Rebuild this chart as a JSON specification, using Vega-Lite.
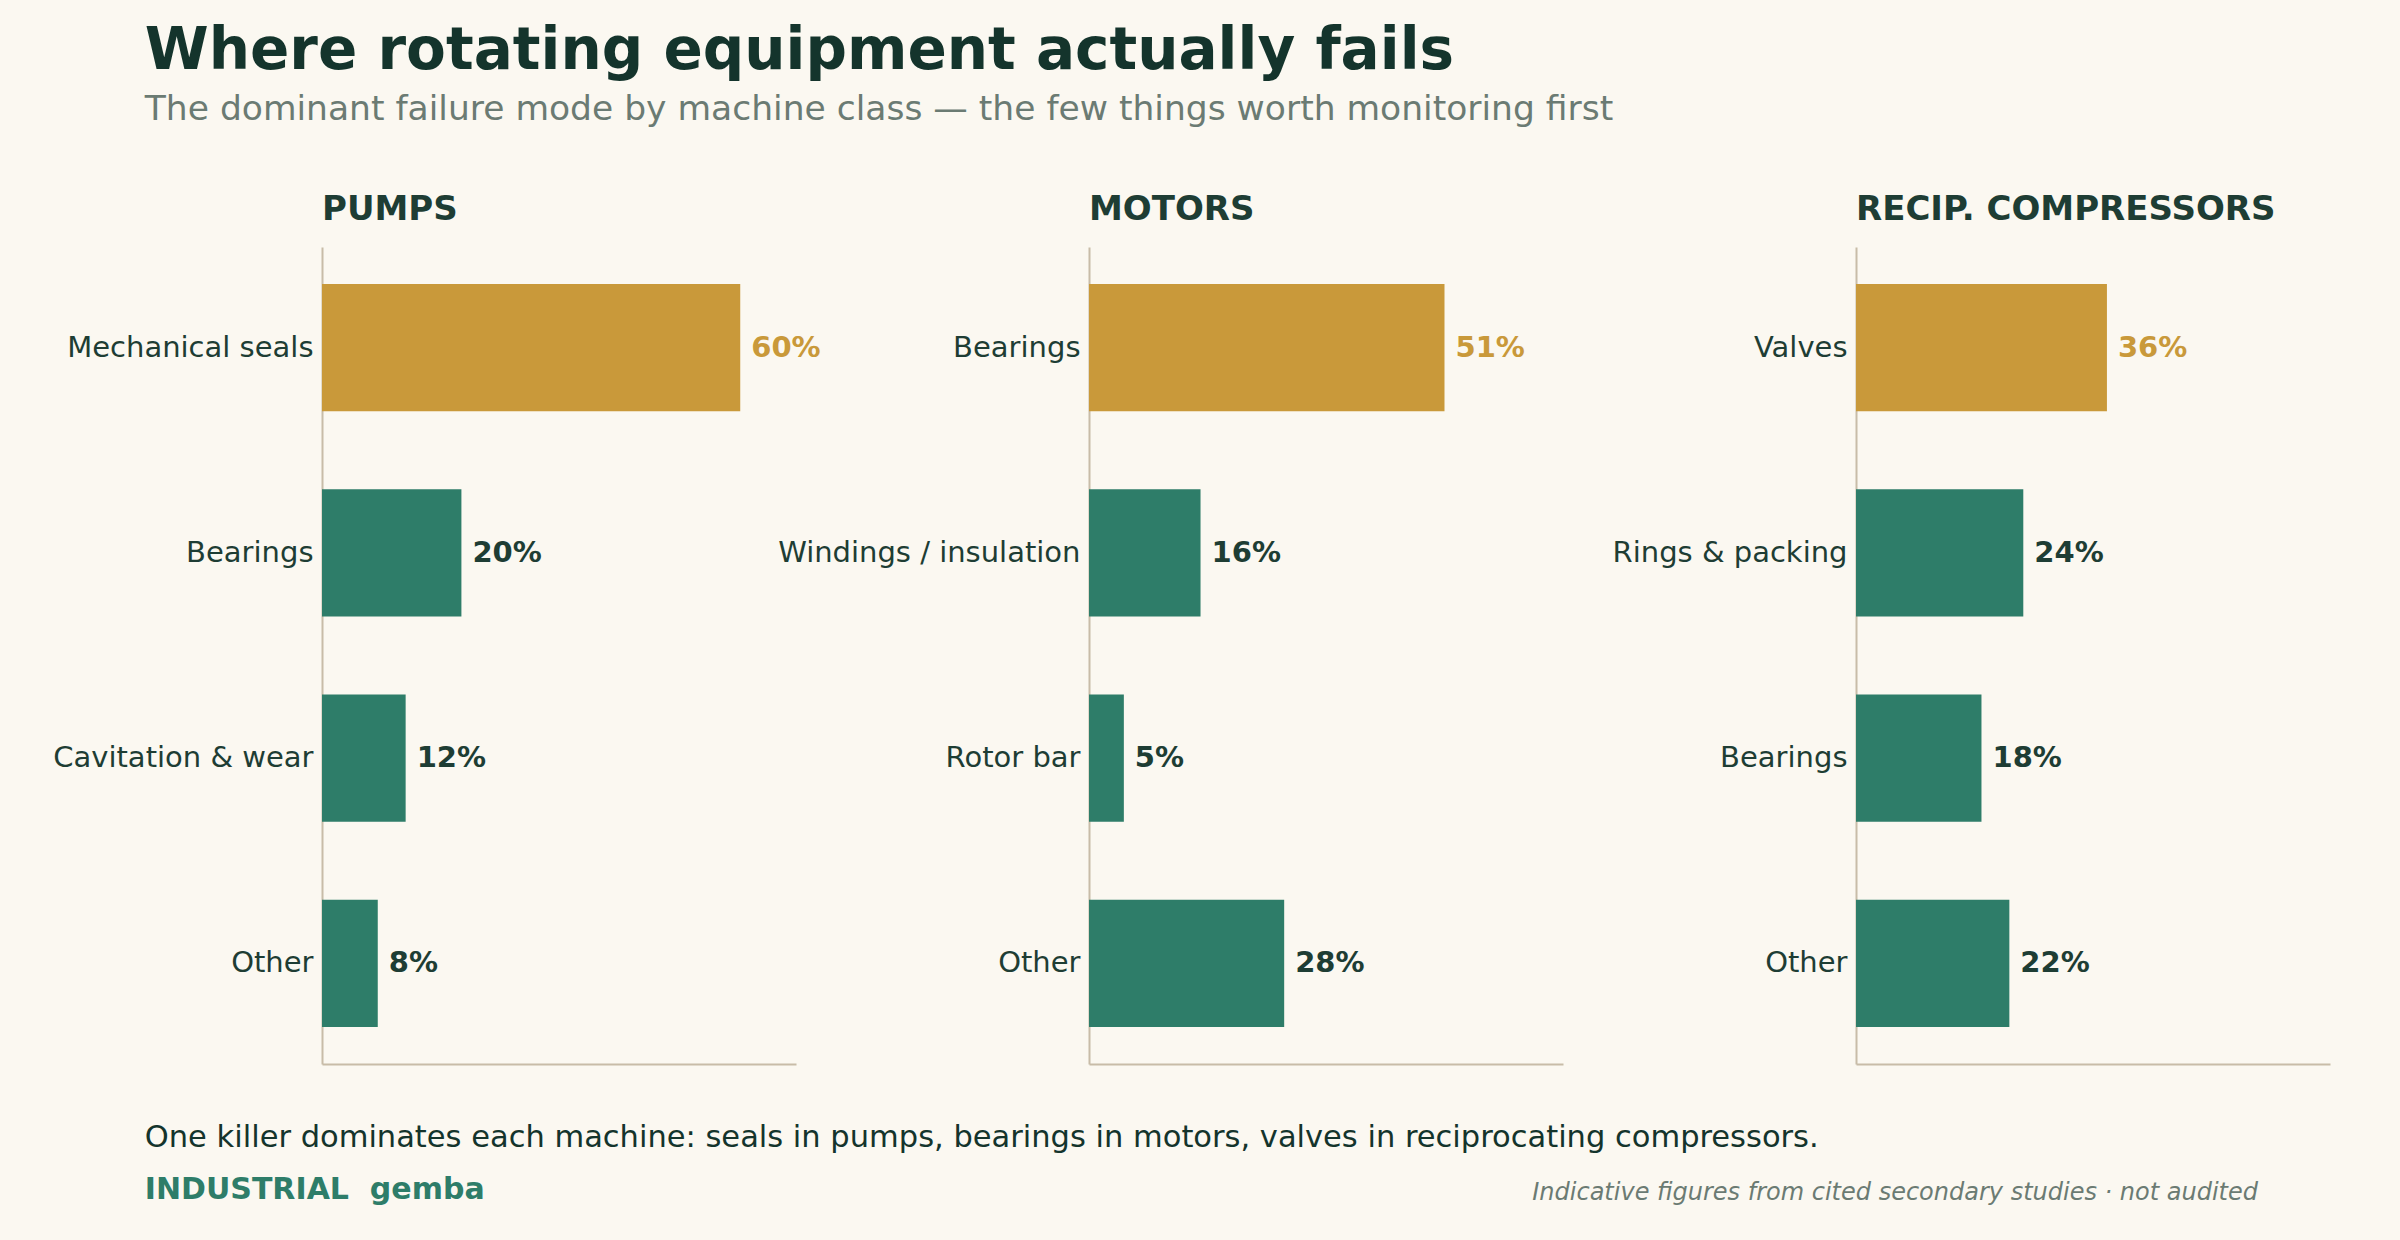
{
  "$schema": "https://vega.github.io/schema/vega-lite/v6.json",
  "background": "#FBF8F1",
  "padding": {"left": 52, "top": 22, "right": 72, "bottom": 39},
  "title": {
    "text": "Where rotating equipment actually fails",
    "subtitle": "The dominant failure mode by machine class — the few things worth monitoring first",
    "anchor": "start",
    "dx": 92,
    "fontSize": 58,
    "fontWeight": "bold",
    "color": "#14342C",
    "subtitleFontSize": 34.5,
    "subtitleColor": "#6B7B73",
    "subtitlePadding": 12,
    "offset": 67
  },
  "vconcat": [
    {
      "title": {
        "text": "Indicative figures from cited secondary studies · not audited",
        "orient": "bottom",
        "anchor": "end",
        "dx": -72,
        "offset": -24,
        "fontSize": 24,
        "fontStyle": "italic",
        "fontWeight": "normal",
        "color": "#6B7B73"
      },
      "vconcat": [
        {
          "title": {
            "text": "One killer dominates each machine: seals in pumps, bearings in motors, valves in reciprocating compressors.",
            "subtitle": "INDUSTRIAL\u00a0\u00a0gemba",
            "orient": "bottom",
            "anchor": "start",
            "dx": 92,
            "offset": 59,
            "fontSize": 30.5,
            "fontWeight": "normal",
            "color": "#14342C",
            "subtitleFontSize": 30,
            "subtitleFontWeight": "bold",
            "subtitleColor": "#2E7D69",
            "subtitlePadding": 21
          },
          "data": {
            "values": [
              {"machine": "PUMPS", "mode": "Mechanical seals", "share": 0.60, "rank": 1},
              {"machine": "PUMPS", "mode": "Bearings", "share": 0.20, "rank": 2},
              {"machine": "PUMPS", "mode": "Cavitation & wear", "share": 0.12, "rank": 3},
              {"machine": "PUMPS", "mode": "Other", "share": 0.08, "rank": 4},
              {"machine": "MOTORS", "mode": "Bearings", "share": 0.51, "rank": 1},
              {"machine": "MOTORS", "mode": "Windings / insulation", "share": 0.16, "rank": 2},
              {"machine": "MOTORS", "mode": "Rotor bar", "share": 0.05, "rank": 3},
              {"machine": "MOTORS", "mode": "Other", "share": 0.28, "rank": 4},
              {"machine": "RECIP. COMPRESSORS", "mode": "Valves", "share": 0.36, "rank": 1},
              {"machine": "RECIP. COMPRESSORS", "mode": "Rings & packing", "share": 0.24, "rank": 2},
              {"machine": "RECIP. COMPRESSORS", "mode": "Bearings", "share": 0.18, "rank": 3},
              {"machine": "RECIP. COMPRESSORS", "mode": "Other", "share": 0.22, "rank": 4}
            ]
          },
          "facet": {
            "column": {
              "field": "machine",
              "type": "nominal",
              "sort": ["PUMPS", "MOTORS", "RECIP. COMPRESSORS"],
              "title": null,
              "header": {
                "labelAnchor": "start",
                "labelAlign": "left",
                "labelFontSize": 34,
                "labelFontWeight": "bold",
                "labelColor": "#1E3D34",
                "labelPadding": 20
              }
            }
          },
          "spacing": 293,
          "bounds": "flush",
          "resolve": {"scale": {"y": "independent"}},
          "spec": {
            "width": 474,
            "height": 817,
            "encoding": {
              "y": {
                "field": "mode",
                "type": "nominal",
                "sort": {"field": "rank", "op": "min"},
                "title": null,
                "scale": {"paddingInner": 0.38, "paddingOuter": 0.18},
                "axis": {
                  "domain": true,
                  "domainColor": "#C8BCA8",
                  "domainWidth": 2,
                  "ticks": false,
                  "labelFontSize": 29,
                  "labelColor": "#1E3D34",
                  "labelPadding": 9,
                  "labelLimit": 400
                }
              },
              "x": {
                "field": "share",
                "type": "quantitative",
                "title": null,
                "scale": {"domain": [0, 0.68], "nice": false},
                "axis": {
                  "domain": true,
                  "domainColor": "#C8BCA8",
                  "domainWidth": 2,
                  "ticks": false,
                  "labels": false,
                  "grid": false
                }
              }
            },
            "layer": [
              {
                "mark": {"type": "bar"},
                "encoding": {
                  "color": {
                    "condition": {"test": "datum.rank === 1", "value": "#C9993A"},
                    "value": "#2E7D69"
                  }
                }
              },
              {
                "mark": {
                  "type": "text",
                  "align": "left",
                  "baseline": "middle",
                  "dx": 11,
                  "fontSize": 29,
                  "fontWeight": "bold"
                },
                "encoding": {
                  "text": {"field": "share", "type": "quantitative", "format": ".0%"},
                  "color": {
                    "condition": {"test": "datum.rank === 1", "value": "#C9993A"},
                    "value": "#1E3D34"
                  }
                }
              }
            ]
          }
        }
      ]
    }
  ],
  "config": {
    "font": "DejaVu Sans",
    "view": {"stroke": null},
    "axis": {"grid": false}
  }
}
